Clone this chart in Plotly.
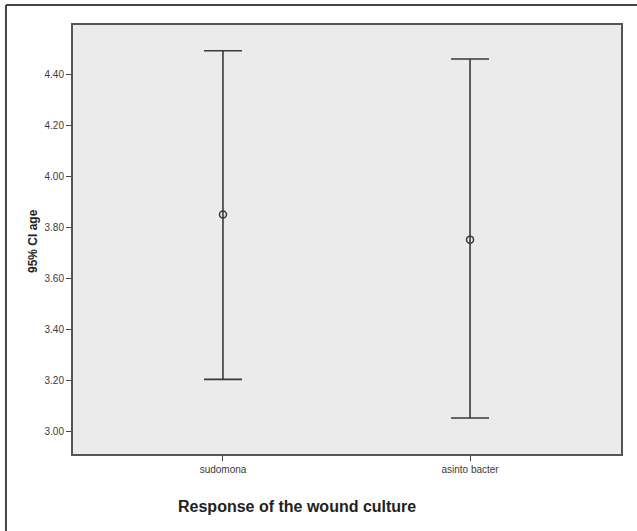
import plotly.graph_objects as go

categories = ["sudomona", "asinto bacter"]
means = [3.85, 3.752]
lower = [3.205, 3.054]
upper = [4.491, 4.459]
y_ticks = [3.00, 3.20, 3.40, 3.60, 3.80, 4.00, 4.20, 4.40]
x_title = "Response of the wound culture"
y_title = "95% CI age"

xpos = list(range(len(categories)))
err_plus = [u - m for u, m in zip(upper, means)]
err_minus = [m - l for m, l in zip(means, lower)]

fig = go.Figure()
fig.add_trace(go.Scatter(
    x=xpos, y=means, mode="markers",
    marker=dict(symbol="circle-open", size=7, color="#3a3a3a", line=dict(width=1.5, color="#3a3a3a")),
    error_y=dict(type="data", symmetric=False, array=err_plus, arrayminus=err_minus,
                 color="#3a3a3a", thickness=1.6, width=19),
    showlegend=False, hoverinfo="skip",
))

fig.update_layout(
    width=637, height=531,
    margin=dict(l=73, r=16, t=25, b=77),
    paper_bgcolor="white", plot_bgcolor="#ebebeb",
    font=dict(family="Liberation Sans, Arial, sans-serif", color="#333333"),
    xaxis=dict(
        range=[-0.607, 1.611], tickmode="array", tickvals=xpos, ticktext=categories,
        showgrid=False, zeroline=False, showline=True, mirror=True,
        linecolor="#555555", linewidth=2, ticks="outside", ticklen=5, tickwidth=1.2,
        tickcolor="#444444", tickfont=dict(size=10, color="#3a3a3a"),
    ),
    yaxis=dict(
        range=[2.913, 4.592], tickmode="array", tickvals=y_ticks,
        ticktext=[f"{v:.2f}" for v in y_ticks],
        showgrid=False, zeroline=False, showline=True, mirror=True,
        linecolor="#555555", linewidth=2, ticks="outside", ticklen=5, tickwidth=1.2,
        tickcolor="#444444", tickfont=dict(size=10, color="#3a3a3a"),
    ),
    annotations=[
        dict(text=f"<b>{x_title}</b>", xref="paper", yref="paper", x=0.409, y=-0.1235,
             xanchor="center", yanchor="middle", showarrow=False,
             font=dict(size=16, color="#222222")),
        dict(text=f"<b>{y_title}</b>", xref="paper", yref="paper", x=-0.073, y=0.4965,
             xanchor="center", yanchor="middle", showarrow=False, textangle=-90,
             font=dict(size=12, color="#222222")),
    ],
    shapes=[
        dict(type="line", xref="paper", yref="paper", x0=-0.1223, x1=1.05, y0=1.0466, y1=1.0466,
             line=dict(color="#444444", width=2)),
        dict(type="line", xref="paper", yref="paper", x0=-0.1223, x1=-0.1223, y0=1.0466, y1=-0.2,
             line=dict(color="#444444", width=2)),
    ],
)

fig.write_html("out.html", config={"displayModeBar": False},
               post_script="document.body.style.margin='0';document.body.style.overflow='hidden';")
